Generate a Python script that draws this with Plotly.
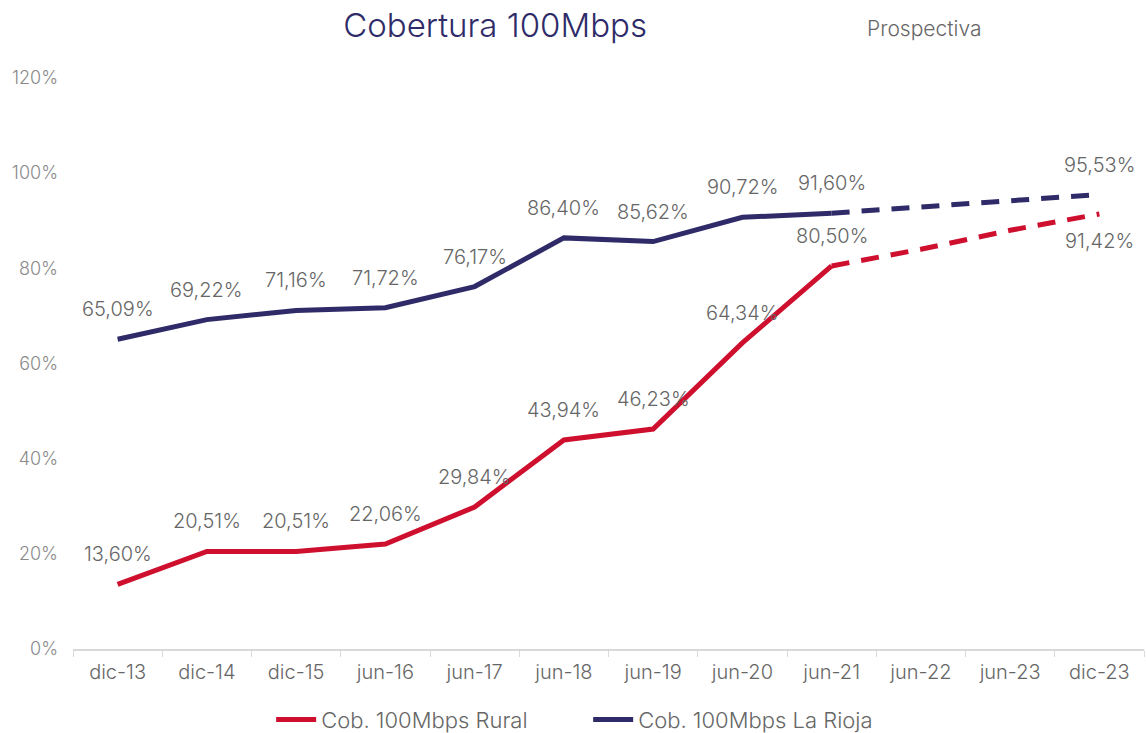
import plotly.graph_objects as go

# datos
periodos = ["dic-13", "dic-14", "dic-15", "jun-16", "jun-17", "jun-18",
            "jun-19", "jun-20", "jun-21", "jun-22", "jun-23", "dic-23"]

rural_real = [13.60, 20.51, 20.51, 22.06, 29.84, 43.94, 46.23, 64.34, 80.50]
rioja_real = [65.09, 69.22, 71.16, 71.72, 76.17, 86.40, 85.62, 90.72, 91.60]

# tramo prospectivo (jun-21 -> dic-23)
rural_prosp = [80.50, 84.0, 88.0, 91.42]
rioja_prosp = [91.60, 93.0, 94.2, 95.53]

ROJO = "#cf0f2e"
AZUL = "#2e2b68"
GRIS = "#666666"
FUENTE = "Inter, sans-serif"

n_real = len(rural_real)
x_real = periodos[:n_real]
x_prosp = periodos[n_real - 1:]

fig = go.Figure()

fig.add_trace(go.Scatter(x=x_real, y=rural_real, mode="lines", name="Cob. 100Mbps Rural",
                         line=dict(color=ROJO, width=5)))
fig.add_trace(go.Scatter(x=x_real, y=rioja_real, mode="lines", name="Cob. 100Mbps La Rioja",
                         line=dict(color=AZUL, width=5)))
fig.add_trace(go.Scatter(x=x_prosp, y=rural_prosp, mode="lines", showlegend=False,
                         line=dict(color=ROJO, width=5, dash="18px,12px")))
fig.add_trace(go.Scatter(x=x_prosp, y=rioja_prosp, mode="lines", showlegend=False,
                         line=dict(color=AZUL, width=5, dash="18px,12px")))


def etiqueta(v):
    return f"{v:.2f}%".replace(".", ",")


anotaciones = []
for x, v in zip(x_real, rural_real):
    anotaciones.append(dict(x=x, y=v, text=etiqueta(v), yshift=30))
for x, v in zip(x_real, rioja_real):
    anotaciones.append(dict(x=x, y=v, text=etiqueta(v), yshift=30))
# extremos de la prospectiva
anotaciones.append(dict(x=periodos[-1], y=rioja_prosp[-1], text=etiqueta(rioja_prosp[-1]), yshift=29))
anotaciones.append(dict(x=periodos[-1], y=rural_prosp[-1], text=etiqueta(rural_prosp[-1]), yshift=-27))

for a in anotaciones:
    a.update(showarrow=False, xanchor="center",
             font=dict(family=FUENTE, size=20, color=GRIS, weight=300))

anotaciones.append(dict(xref="paper", yref="paper", x=0.795, y=1.087, text="Prospectiva",
                        xanchor="center", yanchor="middle", showarrow=False,
                        font=dict(family=FUENTE, size=21, color=GRIS, weight=300)))

fig.update_layout(
    width=1146, height=733,
    paper_bgcolor="white", plot_bgcolor="white",
    margin=dict(l=73, r=2, t=78, b=84),
    font=dict(family=FUENTE, color=GRIS, weight=300),
    title=dict(text="Cobertura 100Mbps", x=0.432, xanchor="center", y=0.965, yanchor="middle",
               font=dict(family=FUENTE, size=33, color=AZUL, weight=300)),
    xaxis=dict(range=[-0.5, len(periodos) - 0.5], showgrid=False, showline=True,
               linecolor="#d9d9d9", linewidth=1.5,
               ticks="outside", tickson="boundaries", ticklen=6, tickcolor="#d9d9d9",
               ticklabelstandoff=4,
               tickfont=dict(size=20, color=GRIS, weight=300), zeroline=False),
    yaxis=dict(range=[0, 120], dtick=20, ticksuffix="%", showgrid=False, zeroline=False,
               showline=False, ticklabelstandoff=14,
               tickfont=dict(size=18, color="#8a8a8a", weight=300)),
    legend=dict(orientation="h", x=0.481, xanchor="center", xref="paper",
                y=0.018, yanchor="middle", yref="container",
                entrywidth=262, entrywidthmode="pixels",
                font=dict(size=22, color=GRIS, weight=300), itemwidth=40),
    annotations=anotaciones,
)

fig.write_html("out.html", config={"displayModeBar": False},
               post_script="document.body.style.margin='0';")
